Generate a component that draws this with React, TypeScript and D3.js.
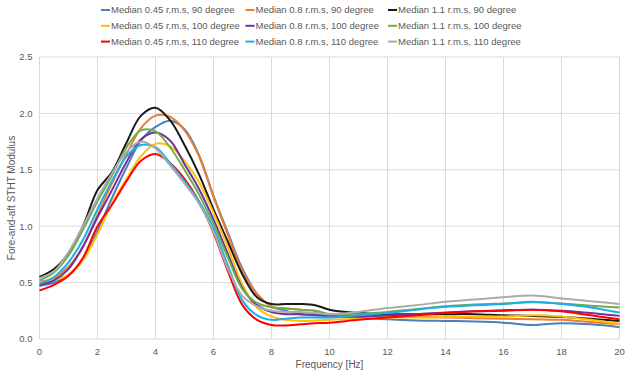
import React, { useEffect, useRef } from "react";
import * as d3 from "d3";

// frequency grid [Hz]
const freq = [0, 0.5, 1, 1.5, 2, 2.5, 3, 3.5, 4, 4.5, 5, 5.5, 6, 6.5, 7, 7.5, 8, 8.5, 9, 9.5, 10, 11, 12, 13, 14, 15, 16, 17, 18, 19, 20];

const med045_90 = [0.47, 0.5, 0.57, 0.7, 0.96, 1.25, 1.52, 1.76, 1.88, 1.935, 1.86, 1.63, 1.27, 0.94, 0.62, 0.4, 0.29, 0.25, 0.22, 0.21, 0.2, 0.19, 0.175, 0.165, 0.16, 0.155, 0.145, 0.125, 0.14, 0.13, 0.105];
const med08_90 = [0.51, 0.54, 0.64, 0.82, 1.1, 1.38, 1.64, 1.87, 1.98, 1.97, 1.85, 1.62, 1.26, 0.92, 0.6, 0.4, 0.29, 0.27, 0.26, 0.25, 0.22, 0.21, 0.2, 0.195, 0.19, 0.185, 0.18, 0.175, 0.17, 0.15, 0.13];
const med11_90 = [0.55, 0.62, 0.76, 1.0, 1.32, 1.48, 1.74, 1.98, 2.05, 1.94, 1.72, 1.46, 1.15, 0.86, 0.57, 0.37, 0.31, 0.31, 0.31, 0.3, 0.26, 0.23, 0.22, 0.22, 0.22, 0.22, 0.21, 0.205, 0.195, 0.18, 0.16];
const med045_100 = [0.5, 0.52, 0.57, 0.7, 0.93, 1.2, 1.42, 1.62, 1.73, 1.71, 1.58, 1.39, 1.12, 0.81, 0.48, 0.28, 0.2, 0.17, 0.16, 0.165, 0.17, 0.18, 0.19, 0.19, 0.195, 0.2, 0.2, 0.21, 0.2, 0.17, 0.135];
const med08_100 = [0.48, 0.52, 0.62, 0.82, 1.08, 1.32, 1.57, 1.77, 1.83, 1.76, 1.55, 1.33, 1.06, 0.75, 0.45, 0.3, 0.24, 0.22, 0.22, 0.215, 0.21, 0.2, 0.21, 0.22, 0.235, 0.245, 0.255, 0.26, 0.25, 0.23, 0.205];
const med11_100 = [0.52, 0.59, 0.74, 0.97, 1.22, 1.45, 1.7, 1.85, 1.84, 1.7, 1.5, 1.28, 1.02, 0.72, 0.44, 0.32, 0.28, 0.27, 0.26, 0.25, 0.22, 0.22, 0.24, 0.265, 0.29, 0.305, 0.315, 0.325, 0.315, 0.295, 0.28];
const med045_110 = [0.43, 0.48, 0.56, 0.72, 1.0, 1.19, 1.4, 1.58, 1.64, 1.56, 1.42, 1.22, 0.94, 0.6, 0.3, 0.17, 0.125, 0.12, 0.13, 0.14, 0.145, 0.17, 0.19, 0.21, 0.23, 0.245, 0.25, 0.26, 0.245, 0.21, 0.175];
const med08_110 = [0.49, 0.55, 0.68, 0.88, 1.15, 1.4, 1.62, 1.72, 1.7, 1.56, 1.4, 1.22, 0.98, 0.65, 0.34, 0.21, 0.17, 0.18, 0.19, 0.19, 0.19, 0.21, 0.23, 0.26, 0.285, 0.3, 0.31, 0.33, 0.31, 0.28, 0.235];
const med11_110 = [0.54, 0.6, 0.77, 1.0, 1.25, 1.47, 1.66, 1.75, 1.69, 1.54, 1.38, 1.2, 0.95, 0.62, 0.38, 0.29, 0.25, 0.24, 0.24, 0.23, 0.22, 0.24, 0.275, 0.3, 0.33, 0.35, 0.37, 0.385, 0.36, 0.335, 0.31];

const seriesNames = [
  "Median 0.45 r.m.s, 90 degree",
  "Median 0.8 r.m.s, 90 degree",
  "Median 1.1 r.m.s, 90 degree",
  "Median 0.45 r.m.s, 100 degree",
  "Median 0.8 r.m.s, 100 degree",
  "Median 1.1 r.m.s, 100 degree",
  "Median 0.45 r.m.s, 110 degree",
  "Median 0.8 r.m.s, 110 degree",
  "Median 1.1 r.m.s, 110 degree",
];
const seriesValues = [med045_90, med08_90, med11_90, med045_100, med08_100, med11_100, med045_110, med08_110, med11_110];
const seriesColors = ["#4A7FC1", "#ED7D31", "#1A1A1A", "#FFC000", "#7030A0", "#70AD47", "#FF0000", "#1CAEE8", "#ABABAB"];

const xTicks = [0, 2, 4, 6, 8, 10, 12, 14, 16, 18, 20];
const yTicks = [0, 0.5, 1.0, 1.5, 2.0, 2.5];

const App = () => {
  const svgRef = useRef(null);
  const width = 625;
  const height = 372;
  const margin = { top: 57, right: 5.5, bottom: 33, left: 39.5 };

  useEffect(() => {
    const innerWidth = width - margin.left - margin.right;
    const innerHeight = height - margin.top - margin.bottom;
    const font = "'Liberation Sans', Arial, sans-serif";
    const textColor = "#595959";

    const svg = d3.select(svgRef.current).attr("width", width).attr("height", height);
    svg.selectAll("*").remove();

    svg.append("rect").attr("width", width).attr("height", height).attr("fill", "#fff");

    const xScale = d3.scaleLinear().domain([0, 20]).range([0, innerWidth]);
    const yScale = d3.scaleLinear().domain([0, 2.5]).range([innerHeight, 0]);

    const g = svg.append("g").attr("transform", `translate(${margin.left},${margin.top})`);

    // gridlines
    g.selectAll(".hgrid")
      .data(yTicks)
      .enter()
      .append("line")
      .attr("x1", 0)
      .attr("x2", innerWidth)
      .attr("y1", (d) => yScale(d))
      .attr("y2", (d) => yScale(d))
      .attr("stroke", "#D9D9D9")
      .attr("stroke-width", 1);

    g.selectAll(".vgrid")
      .data(xTicks)
      .enter()
      .append("line")
      .attr("x1", (d) => xScale(d))
      .attr("x2", (d) => xScale(d))
      .attr("y1", 0)
      .attr("y2", innerHeight)
      .attr("stroke", "#D9D9D9")
      .attr("stroke-width", 1);

    // tick labels
    g.selectAll(".ylab")
      .data(yTicks)
      .enter()
      .append("text")
      .attr("x", -7)
      .attr("y", (d) => yScale(d) + 3.4)
      .attr("text-anchor", "end")
      .attr("font-family", font)
      .attr("font-size", 9.5)
      .attr("fill", textColor)
      .text((d) => d.toFixed(1));

    g.selectAll(".xlab")
      .data(xTicks)
      .enter()
      .append("text")
      .attr("x", (d) => xScale(d))
      .attr("y", innerHeight + 16)
      .attr("text-anchor", "middle")
      .attr("font-family", font)
      .attr("font-size", 9.5)
      .attr("fill", textColor)
      .text((d) => d);

    // axis titles
    svg
      .append("text")
      .attr("transform", `translate(15,${margin.top + innerHeight / 2}) rotate(-90)`)
      .attr("text-anchor", "middle")
      .attr("font-family", font)
      .attr("font-size", 10)
      .attr("fill", textColor)
      .text("Fore-and-aft STHT Modulus");

    svg
      .append("text")
      .attr("x", margin.left + innerWidth / 2)
      .attr("y", 368)
      .attr("text-anchor", "middle")
      .attr("font-family", font)
      .attr("font-size", 10)
      .attr("fill", textColor)
      .text("Frequency [Hz]");

    // lines
    const line = d3
      .line()
      .x((d) => xScale(d[0]))
      .y((d) => yScale(d[1]))
      .curve(d3.curveCatmullRom.alpha(0.5));

    seriesValues.forEach((vals, i) => {
      g.append("path")
        .datum(freq.map((f, j) => [f, vals[j]]))
        .attr("fill", "none")
        .attr("stroke", seriesColors[i])
        .attr("stroke-width", 2)
        .attr("stroke-linejoin", "round")
        .attr("d", line);
    });

    // legend
    const colX = [111, 255.5, 398];
    const rowY = [10, 25.8, 41.6];
    seriesNames.forEach((name, i) => {
      const cx = colX[i % 3];
      const cy = rowY[Math.floor(i / 3)];
      svg
        .append("line")
        .attr("x1", cx - 10)
        .attr("x2", cx - 1)
        .attr("y1", cy)
        .attr("y2", cy)
        .attr("stroke", seriesColors[i])
        .attr("stroke-width", 2);
      svg
        .append("text")
        .attr("x", cx)
        .attr("y", cy + 3.4)
        .attr("font-family", font)
        .attr("font-size", 9.5)
        .attr("fill", textColor)
        .text(name);
    });
  }, []);

  return (
    <svg ref={svgRef} style={{ position: "absolute", left: 0, top: 0 }}></svg>
  );
};

export default App;
